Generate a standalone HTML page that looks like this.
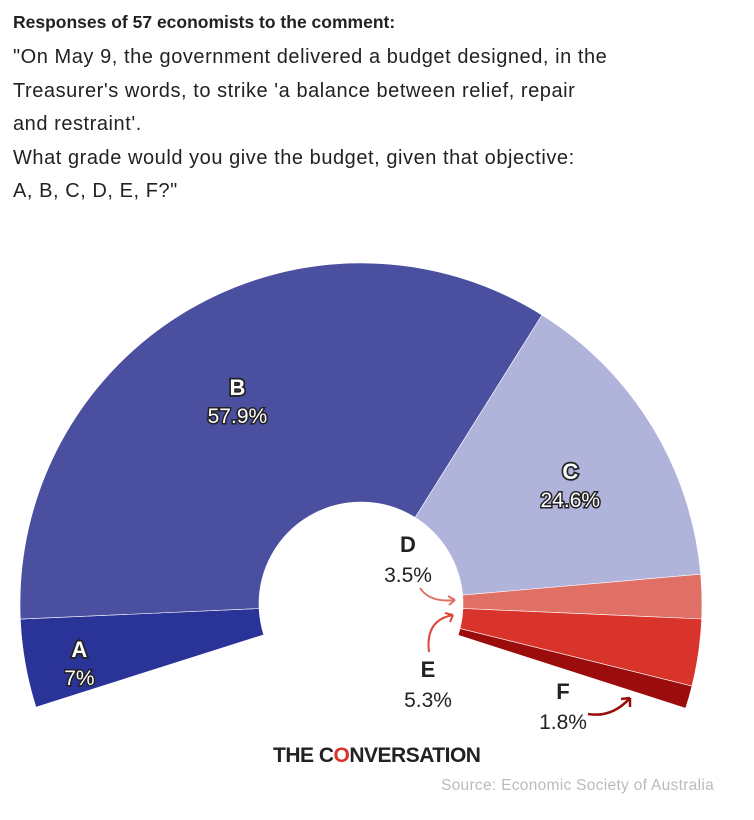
<!DOCTYPE html>
<html><head><meta charset="utf-8"><style>
body{margin:0;background:#fff;width:754px;height:820px;overflow:hidden;font-family:"Liberation Sans",sans-serif}
.t{position:absolute;left:13px;color:#222;font-size:20px;line-height:33.5px;letter-spacing:0.55px}
</style></head><body>
<div class="t" style="top:6px;font-weight:bold;font-size:17.5px;letter-spacing:0">Responses of 57 economists to the comment:</div>
<div class="t" style="top:41px">"On May 9, the government delivered a budget designed, in the<br>Treasurer's words, to strike 'a balance between relief, repair<br>and restraint'.<br>What grade would you give the budget, given that objective:<br>A, B, C, D, E, F?"</div>
<svg id="c" width="754" height="820" style="position:absolute;left:0;top:0">
<g id="arcs"></g>
<g id="labels" font-family="Liberation Sans, sans-serif" text-anchor="middle"></g>
<path d="M420,588 Q430,603 455,600" fill="none" stroke="#e07065" stroke-width="2"/>
<path d="M455,600 l-7,-4 M455,600 l-6,5" stroke="#e07065" stroke-width="2"/>
<path d="M429,652 Q425,620 453,615" fill="none" stroke="#e0453b" stroke-width="2"/>
<path d="M453,615 l-8,-2 M453,615 l-3,7" stroke="#e0453b" stroke-width="2"/>
<path d="M588,714 Q612,718 630,698" fill="none" stroke="#9b0d0d" stroke-width="2.5"/>
<path d="M630,698 l-9,1 M630,698 l0,9" stroke="#9b0d0d" stroke-width="2.5"/>
<text x="273" y="762" font-size="21" font-weight="bold" fill="#222" letter-spacing="-0.5">THE C<tspan fill="#d8352a">O</tspan>NVERSATION</text>
<text x="714" y="790" font-size="15.5" fill="#bbb" text-anchor="end" letter-spacing="0.3">Source: Economic Society of Australia</text>
</svg>
<script>
const categories=["A","B","C","D","E","F"];
const values=[7,57.9,24.6,3.5,5.3,1.8];
const colors=["#2a3398","#4a4f9f","#b0b3da","#e07065","#d9342b","#9b0d0d"];
const cx=361,cy=604,rin=102,rout=341,start=197.6,span=215.4;
const ns="http://www.w3.org/2000/svg";
const total=values.reduce((a,b)=>a+b,0);
function pt(a,r){const t=a*Math.PI/180;return [cx+r*Math.cos(t),cy-r*Math.sin(t)];}
const arcs=document.getElementById('arcs'),labels=document.getElementById('labels');
let a=start;
const lab=[{r:0.77},{r:0.60},{r:0.6},null,null,null];
const fixed={D:[408,552,582],E:[428,677,707],F:[563,699,729]};
values.forEach((v,i)=>{
 const a2=a-v/total*span;
 const [x1,y1]=pt(a,rout),[x2,y2]=pt(a2,rout),[x3,y3]=pt(a2,rin),[x4,y4]=pt(a,rin);
 const large=(a-a2)>180?1:0;
 const p=document.createElementNS(ns,'path');
 p.setAttribute('d',`M${x1},${y1} A${rout},${rout} 0 ${large} 1 ${x2},${y2} L${x3},${y3} A${rin},${rin} 0 ${large} 0 ${x4},${y4}Z`);
 p.setAttribute('fill',colors[i]);p.setAttribute('stroke','#fff');p.setAttribute('stroke-width','0.6');
 
 
 arcs.appendChild(p);
 let lx,ly1,ly2,st;
 if(lab[i]){const m=(a+a2)/2;const [x,y]=pt(m,rin+(rout-rin)*lab[i].r);lx=x;ly1=y+3;ly2=y+31;st=true;}
 else{[lx,ly1,ly2]=fixed[categories[i]];st=false;}
 const t1=document.createElementNS(ns,'text');
 t1.setAttribute('x',lx);t1.setAttribute('y',ly1);t1.setAttribute('font-size','22');t1.setAttribute('font-weight','bold');
 t1.setAttribute('fill',st?'#fff':'#222');
 if(st){t1.setAttribute('stroke','#222');t1.setAttribute('stroke-width','3.5');t1.setAttribute('paint-order','stroke');}
 t1.textContent=categories[i];
 
 
 labels.appendChild(t1);
 const t2=document.createElementNS(ns,'text');
 t2.setAttribute('x',lx);t2.setAttribute('y',ly2);t2.setAttribute('font-size','21');
 t2.setAttribute('fill',st?'#fff':'#222');
 if(st){t2.setAttribute('stroke','#222');t2.setAttribute('stroke-width','3');t2.setAttribute('paint-order','stroke');}
 t2.textContent=v+'%';
 
 
 labels.appendChild(t2);
 a=a2;
});
</script>
</body></html>
